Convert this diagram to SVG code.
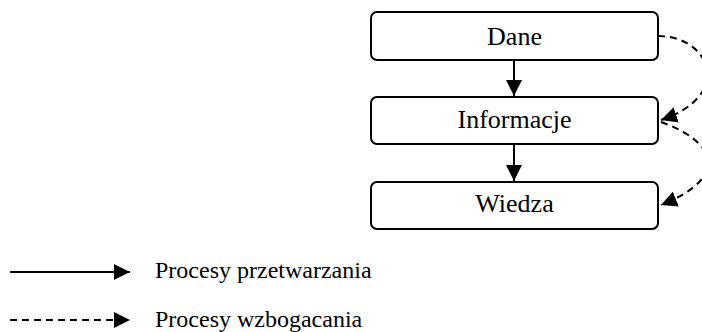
<svg xmlns="http://www.w3.org/2000/svg" width="702" height="332" viewBox="0 0 702 332">
<style>
.box{fill:#fff;stroke:#000;stroke-width:2}
.lbl{font-family:"Liberation Serif","Times New Roman",serif;font-size:26px;fill:#000;text-anchor:middle}
.leg{font-family:"Liberation Serif","Times New Roman",serif;font-size:24px;fill:#000}
.solid{fill:none;stroke:#000;stroke-width:2}
.dash{fill:none;stroke:#000;stroke-width:2;stroke-dasharray:7,5}
</style>
<defs>
<marker id="ah" markerUnits="userSpaceOnUse" markerWidth="16" markerHeight="16" viewBox="0 0 16 16" refX="16" refY="8" orient="auto">
<path d="M0,0 L16,8 L0,16 Z" fill="#000"/>
</marker>
</defs>
<rect width="702" height="332" fill="#fff"/>
<g id="connectors">
<line class="solid" x1="514" y1="60" x2="514" y2="96" marker-end="url(#ah)"/>
<line class="solid" x1="514" y1="144" x2="514" y2="181" marker-end="url(#ah)"/>
<path class="dash" d="M658,36 C710,36 735,95 661,120" marker-end="url(#ah)"/>
<path class="dash" d="M661,122 C712,140 735,175 661,205" marker-end="url(#ah)"/>
</g>
<g id="dane"><rect class="box" x="371" y="12" width="287" height="48" rx="6"/><text class="lbl" x="514.5" y="45">Dane</text></g>
<g id="informacje"><rect class="box" x="371" y="97" width="287" height="47" rx="6"/><text class="lbl" x="514.5" y="128">Informacje</text></g>
<g id="wiedza"><rect class="box" x="371" y="182" width="287" height="47" rx="6"/><text class="lbl" x="514.5" y="212">Wiedza</text></g>
<g id="legend">
<line class="solid" x1="10" y1="272" x2="130" y2="272" marker-end="url(#ah)"/>
<text class="leg" x="155" y="278">Procesy przetwarzania</text>
<line class="dash" x1="10" y1="320" x2="130" y2="320" marker-end="url(#ah)"/>
<text class="leg" x="155" y="326.5">Procesy wzbogacania</text>
</g>
</svg>
